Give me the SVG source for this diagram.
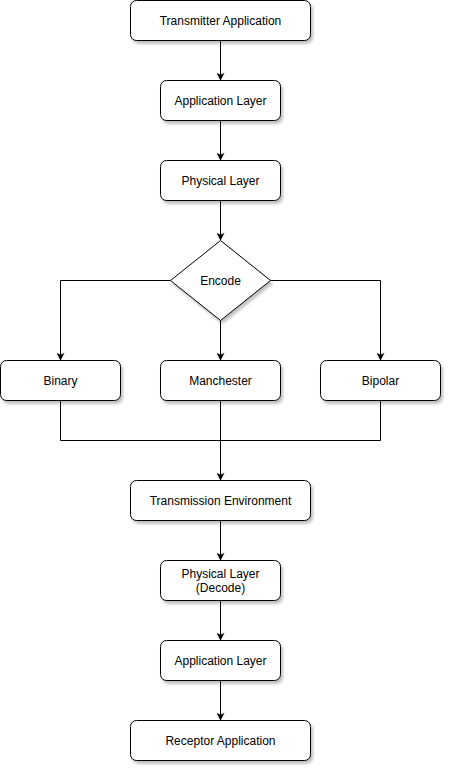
<svg xmlns="http://www.w3.org/2000/svg" width="452" height="772" viewBox="0 0 452 772">
<defs>
<filter id="sh" x="-10%" y="-10%" width="130%" height="140%">
<feGaussianBlur in="SourceAlpha" stdDeviation="1.5"/>
<feOffset dx="2" dy="3" result="b"/>
<feComponentTransfer><feFuncA type="linear" slope="0.25"/></feComponentTransfer>
<feMerge><feMergeNode/><feMergeNode in="SourceGraphic"/></feMerge>
</filter>
<marker id="ar" viewBox="0 0 10 10" refX="9" refY="5" markerWidth="8" markerHeight="8" markerUnits="userSpaceOnUse" orient="auto">
<path d="M0,0 L10,5 L0,10 L2.5,5 Z" fill="#000"/>
</marker>
</defs>
<style>
.n rect,.n polygon{fill:#fff;stroke:#000;stroke-width:1;filter:url(#sh)}
.n text{font-family:"Liberation Sans",Arial,sans-serif;font-size:12px;fill:#000;text-anchor:middle}
.e path{fill:none;stroke:#000;stroke-width:1}
</style>
<rect width="452" height="772" fill="#fff"/>
<g class="e">
<path d="M220.5,40.5 V80" marker-end="url(#ar)"/>
<path d="M220.5,120.5 V160" marker-end="url(#ar)"/>
<path d="M220.5,200.5 V240" marker-end="url(#ar)"/>
<path d="M170.5,280.5 H60.5 V360" marker-end="url(#ar)"/>
<path d="M220.5,320.5 V360" marker-end="url(#ar)"/>
<path d="M270.5,280.5 H380.5 V360" marker-end="url(#ar)"/>
<path d="M60.5,400.5 V440.5 H220.5"/>
<path d="M380.5,400.5 V440.5 H220.5"/>
<path d="M220.5,400.5 V480" marker-end="url(#ar)"/>
<path d="M220.5,520.5 V560" marker-end="url(#ar)"/>
<path d="M220.5,600.5 V640" marker-end="url(#ar)"/>
<path d="M220.5,680.5 V720" marker-end="url(#ar)"/>
</g>
<g id="transmitter" class="n"><rect x="130.5" y="0.5" width="180" height="40" rx="6"/><text x="220.5" y="24.5">Transmitter Application</text></g>
<g id="app1" class="n"><rect x="160.5" y="80.5" width="120" height="40" rx="6"/><text x="220.5" y="104.5">Application Layer</text></g>
<g id="phys1" class="n"><rect x="160.5" y="160.5" width="120" height="40" rx="6"/><text x="220.5" y="184.5">Physical Layer</text></g>
<g id="encode" class="n"><polygon points="220.5,240.5 270.5,280.5 220.5,320.5 170.5,280.5"/><text x="220.5" y="284.5">Encode</text></g>
<g id="binary" class="n"><rect x="0.5" y="360.5" width="120" height="40" rx="6"/><text x="60.5" y="384.5">Binary</text></g>
<g id="manchester" class="n"><rect x="160.5" y="360.5" width="120" height="40" rx="6"/><text x="220.5" y="384.5">Manchester</text></g>
<g id="bipolar" class="n"><rect x="320.5" y="360.5" width="120" height="40" rx="6"/><text x="380.5" y="384.5">Bipolar</text></g>
<g id="transmission" class="n"><rect x="130.5" y="480.5" width="180" height="40" rx="6"/><text x="220.5" y="504.5">Transmission Environment</text></g>
<g id="phys2" class="n"><rect x="160.5" y="560.5" width="120" height="40" rx="6"/><text x="220.5" y="577.5">Physical Layer</text><text x="220.5" y="591.5">(Decode)</text></g>
<g id="app2" class="n"><rect x="160.5" y="640.5" width="120" height="40" rx="6"/><text x="220.5" y="664.5">Application Layer</text></g>
<g id="receptor" class="n"><rect x="130.5" y="720.5" width="180" height="40" rx="6"/><text x="220.5" y="744.5">Receptor Application</text></g>
</svg>
